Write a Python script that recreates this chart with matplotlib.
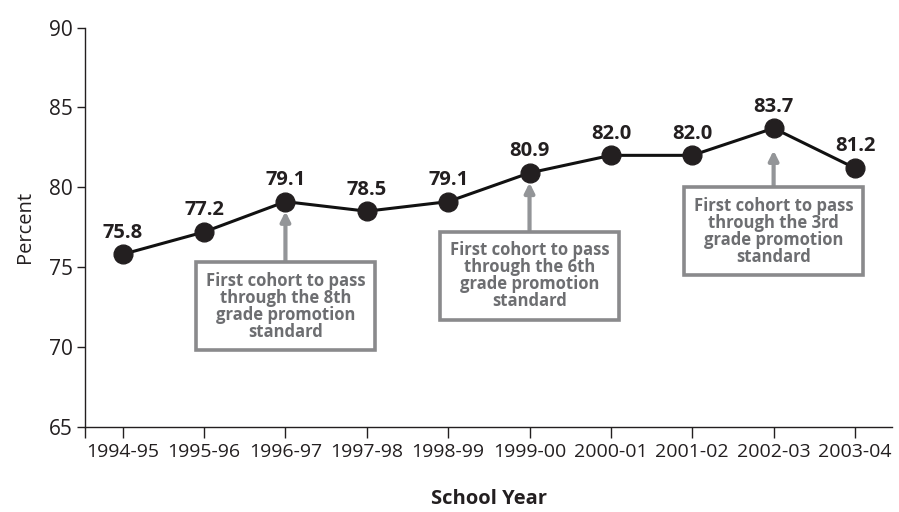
import numpy as np
import matplotlib
matplotlib.use('Agg')
import matplotlib.pyplot as plt

# --- data ---
years = ['1994-95', '1995-96', '1996-97', '1997-98', '1998-99',
         '1999-00', '2000-01', '2001-02', '2002-03', '2003-04']
percent = [75.8, 77.2, 79.1, 78.5, 79.1, 80.9, 82.0, 82.0, 83.7, 81.2]

notes = ['First cohort to pass\nthrough the 8th\ngrade promotion\nstandard',
         'First cohort to pass\nthrough the 6th\ngrade promotion\nstandard',
         'First cohort to pass\nthrough the 3rd\ngrade promotion\nstandard']
note_idx = [2, 5, 8]
note_y = [72.55, 74.45, 77.25]
note_gap = [7, 7, 16]

plt.rcParams['font.family'] = ['Open Sans', 'DejaVu Sans']

fig = plt.figure(figsize=(8.99, 5.12), dpi=100)
ax = fig.add_axes([0.0946, 0.1666, 0.8976, 0.7794])

x = np.arange(len(years))
ax.plot(x, percent, color='#111111', lw=2.2, marker='o', ms=13.5,
        mfc='#231f20', mec='#231f20', zorder=3, clip_on=False)

for xi, v in zip(x, percent):
    ax.annotate(f'{v:.1f}', (xi, v), xytext=(0, 12), textcoords='offset points',
                ha='center', va='baseline', fontsize=14.5, fontweight='bold',
                color='#231f20')

for i, txt, ty, gap in zip(note_idx, notes, note_y, note_gap):
    ax.annotate(txt, xy=(i, percent[i]), xytext=(i, ty),
                ha='center', va='center', multialignment='center',
                fontsize=12, fontweight='bold', color='#6d6e71', linespacing=0.93,
                bbox=dict(boxstyle='square,pad=0.58', fc='white', ec='#8a8a8c', lw=2.6),
                arrowprops=dict(arrowstyle='-|>', color='#939598', lw=3,
                                mutation_scale=14, shrinkA=0, shrinkB=gap),
                zorder=2)

ax.set_xlim(-0.463, 9.455)
ax.set_ylim(65, 90)
ax.set_yticks([65, 70, 75, 80, 85, 90])
ax.set_xticks(x)
ax.set_xticklabels(years)
ax.set_xticks([-0.463], minor=True)

for s in ['top', 'right']:
    ax.spines[s].set_visible(False)
for s in ['left', 'bottom']:
    ax.spines[s].set_linewidth(1.0)
    ax.spines[s].set_color('#231f20')

ax.tick_params(axis='x', which='both', direction='out', length=8, width=1.0,
               labelsize=14, pad=4, colors='#231f20')
ax.tick_params(axis='y', direction='out', length=6, width=1.0,
               labelsize=15, pad=3, colors='#231f20')

ax.set_ylabel('Percent', fontsize=14.5, color='#231f20', labelpad=10)
ax.set_xlabel('School Year', fontsize=14.5, fontweight='bold', color='#231f20', labelpad=20)

fig.savefig('out.png', dpi=100)
